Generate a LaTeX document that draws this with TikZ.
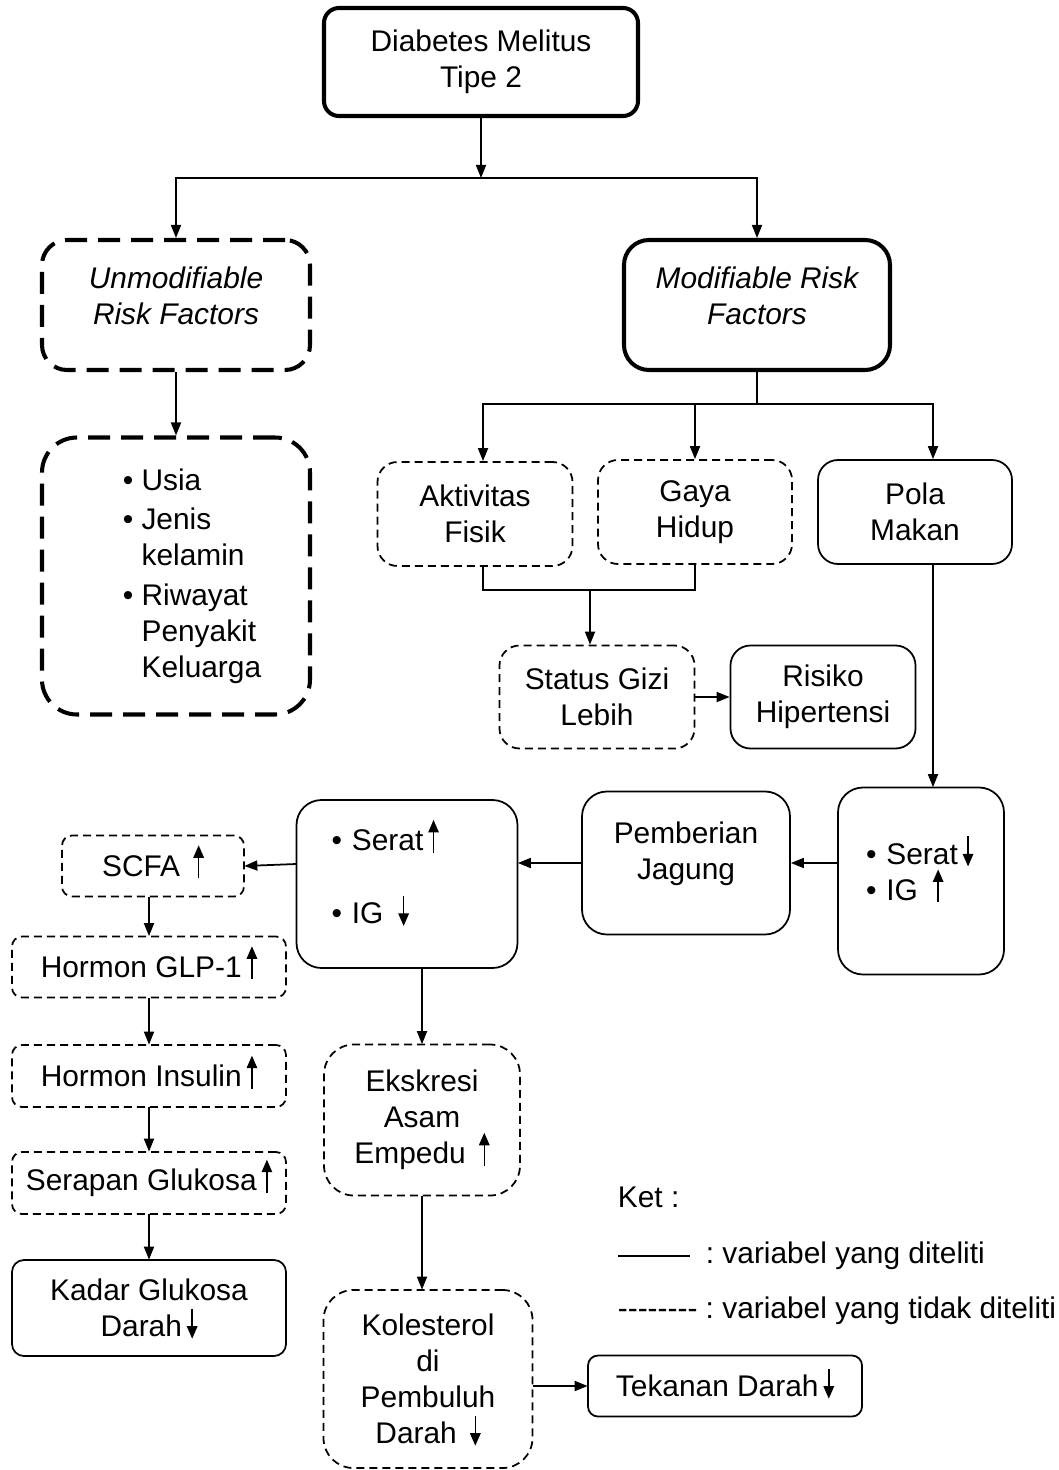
\documentclass[tikz,border=0pt]{standalone}
\usepackage{fontspec}
\setmainfont{Liberation Sans}
\usetikzlibrary{arrows.meta}
\frenchspacing
\newcommand{\panahnaik}{\,\smash{\tikz[baseline=0pt]\draw[-{Triangle[length=2.5mm,width=2.1mm]},line width=0.8pt] (0mm,-0.4mm) -- (0mm,6.2mm);}}
\newcommand{\panahturun}{\,\smash{\tikz[baseline=0pt]\draw[-{Triangle[length=2.5mm,width=2.1mm]},line width=0.8pt] (0mm,5.6mm) -- (0mm,-0.4mm);}}
\newcommand{\butir}{\hspace*{6.4mm}\textbullet\ }
\newcommand{\sambung}{\hspace*{6.4mm}\phantom{\textbullet\ }}
\begin{document}
\begin{tikzpicture}[->,>={Triangle[length=2.6mm,width=2mm]},x=0.2mm,y=-0.2mm,line width=1pt]
    \tikzstyle{every node}=[font=\fontsize{17}{20.5}\selectfont,align=center,inner sep=1mm];
    \tikzstyle{ital}=[font=\fontsize{17}{20.5}\selectfont\itshape];
    \tikzstyle{plain}=[draw,rounded corners=4mm];
    \tikzstyle{dashy}=[plain,dash pattern=on 1.6mm off 1mm];
    \tikzstyle{heavy}=[draw,rounded corners=5mm,line width=2.3pt];
    \tikzstyle{heavydash}=[heavy,dash pattern=on 4.4mm off 2.2mm];
    \useasboundingbox (0,0) rectangle (1058,1470);

    \node at (481,62)    (dm) [heavy,rounded corners=3mm,minimum width=62.8mm,minimum height=21.6mm] {Diabetes Melitus\\Tipe 2};
    \node at (176,305)   (unmod) [heavydash,ital,minimum width=53.6mm,minimum height=26mm,text depth=3.6mm] {Unmodifiable\\Risk Factors};
    \node at (757,305)   (mod) [heavy,ital,minimum width=53.2mm,minimum height=26mm,text depth=3.6mm] {Modifiable Risk\\Factors};
    \node at (176,576)   (list) [heavydash,rounded corners=7mm,minimum width=53.6mm,minimum height=55.4mm,align=left] {\butir Usia\\[0.6mm]\butir Jenis\\\sambung kelamin\\[0.8mm]\butir Riwayat\\\sambung Penyakit\\\sambung Keluarga};
    \node at (475,514)   (akt) [dashy,minimum width=39mm,minimum height=20.8mm] {Aktivitas\\Fisik};
    \node at (695,512)   (gaya) [dashy,minimum width=38.8mm,minimum height=20.8mm] {Gaya\\Hidup};
    \node at (915,512)   (pola) [plain,minimum width=38.8mm,minimum height=20.8mm] {Pola\\Makan};
    \node at (597,697)   (status) [dashy,minimum width=39mm,minimum height=20.6mm] {Status Gizi\\Lebih};
    \node at (823,697)   (risiko) [plain,minimum width=37mm,minimum height=20.6mm] {Risiko\\Hipertensi};
    \node at (921,881)   (turun) [plain,rounded corners=5mm,minimum height=37.4mm,text width=22mm,inner xsep=5.6mm,align=left,text depth=10.8mm] {\textbullet~Serat\panahturun\\\textbullet~IG \panahnaik};
    \node at (686,863)   (jagung) [plain,rounded corners=5mm,minimum width=41.6mm,minimum height=28.6mm,text depth=4.9mm] {Pemberian\\Jagung};
    \node at (407,884)   (naik) [plain,rounded corners=5mm,minimum height=33.6mm,text width=30.2mm,inner xsep=7mm,align=left,text depth=17.4mm] {\textbullet~Serat\panahnaik\\[7.4mm]\textbullet~IG \panahturun};
    \node at (153,866)   (scfa) [dashy,rounded corners=2mm,minimum width=36.4mm,minimum height=12.2mm] {SCFA \panahnaik};
    \node at (149,967)   (glp) [dashy,rounded corners=2mm,minimum width=54.8mm,minimum height=12.2mm] {Hormon GLP-1\panahnaik};
    \node at (149,1076)  (insulin) [dashy,rounded corners=2mm,minimum width=54.8mm,minimum height=12.4mm] {Hormon Insulin\panahnaik};
    \node at (149,1183)  (serapan) [dashy,rounded corners=2mm,minimum width=54.8mm,minimum height=12.4mm] {Serapan Glukosa\panahnaik};
    \node at (149,1308)  (kadar) [plain,rounded corners=2.4mm,minimum width=54.8mm,minimum height=19.2mm] {Kadar Glukosa\\Darah\panahturun};
    \node at (422,1120)  (empedu) [dashy,rounded corners=6mm,minimum width=39.2mm,minimum height=30.2mm] {Ekskresi\\Asam\\Empedu \panahnaik};
    \node at (428,1379)  (kolesterol) [dashy,rounded corners=6mm,minimum width=41.8mm,minimum height=35.6mm] {Kolesterol\\di\\Pembuluh\\Darah \panahturun};
    \node at (725,1386)  (tekanan) [plain,rounded corners=2mm,minimum width=54.8mm,minimum height=12.2mm] {Tekanan Darah\panahturun};

    \node at (612,1197)  (ket) [anchor=west] {Ket :};
    \coordinate (ga) at (618,1256);
    \coordinate (gb) at (690,1256);
    \node at (700,1256)  (diteliti) [anchor=west] {: variabel yang diteliti};
    \node at (612,1311)  (tidak) [anchor=west] {-{}-{}-{}-{}-{}-{}-{}- : variabel yang tidak diteliti};

    \coordinate (j1) at (481,178);
    \coordinate (j2) at (757,404);
    \coordinate (j3) at (590,590);

    \draw (dm) to (j1);
    \draw (j1) -| (unmod);
    \draw (j1) -| (mod);
    \draw (unmod) to (list);
    \draw[-] (mod) to (j2);
    \draw (j2) -| ([xshift=1.6mm]akt.north);
    \draw (j2) -| (gaya);
    \draw (j2) -| ([xshift=3.6mm]pola.north);
    \draw[-] ([xshift=1.6mm]akt.south) |- (j3);
    \draw[-] (gaya) |- (j3);
    \draw (j3) to (j3 |- status.north);
    \draw (status) to (risiko);
    \draw ([xshift=3.6mm]pola.south) to ([xshift=3.6mm]pola.south |- turun.north);
    \draw (turun.west |- jagung.east) to (jagung.east);
    \draw (jagung.west) to (jagung.west -| naik.east);
    \draw ([yshift=4mm]naik.west) to (scfa.east);
    \draw (scfa.south -| glp.north) to (glp.north);
    \draw (glp) to (insulin);
    \draw (insulin) to (serapan);
    \draw (serapan) to (kadar);
    \draw (naik.south -| empedu.north) to (empedu.north);
    \draw (empedu.south) to (empedu.south |- kolesterol.north);
    \draw (kolesterol.east |- tekanan.west) to (tekanan.west);
    \draw[-] (ga) to (gb);
\end{tikzpicture}
\end{document}
